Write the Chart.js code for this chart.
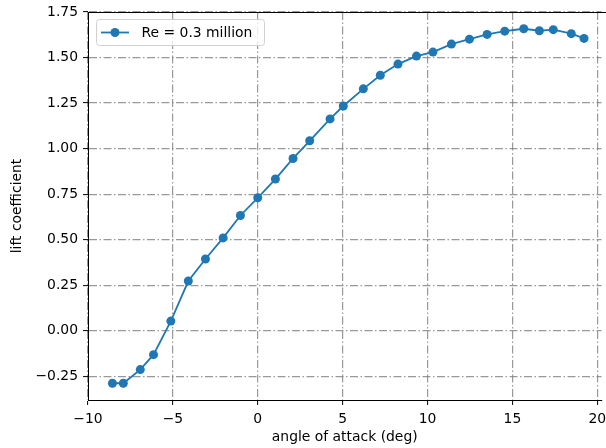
<!DOCTYPE html>
<html>
<head>
<meta charset="utf-8">
<script src="https://cdn.jsdelivr.net/npm/chart.js@4.4.1/dist/chart.umd.min.js"></script>
<style>
  html, body { margin: 0; padding: 0; background: #fff; overflow: hidden; }
  #wrap { width: 606px; height: 448px; }
</style>
</head>
<body>
<div id="wrap"><canvas id="chart"></canvas></div>
<script>
// angle of attack (deg) and lift coefficient
const alpha = [-8.56, -7.92, -6.92, -6.14, -5.12, -4.09, -3.08, -2.04, -1.02, 0.0,
  1.04, 2.08, 3.06, 4.26, 5.04, 6.22, 7.22, 8.26, 9.35, 10.32,
  11.41, 12.47, 13.51, 14.55, 15.67, 16.59, 17.41, 18.47, 19.22];
const cl = [-0.288, -0.288, -0.213, -0.131, 0.053, 0.273, 0.394, 0.510, 0.633, 0.730,
  0.833, 0.946, 1.043, 1.163, 1.234, 1.328, 1.403, 1.464, 1.508, 1.530,
  1.574, 1.601, 1.627, 1.645, 1.658, 1.647, 1.653, 1.631, 1.605];
const seriesLabel = "Re = 0.3 million";
const xTicks = [-10, -5, 0, 5, 10, 15, 20];
const yTicks = [-0.25, 0, 0.25, 0.5, 0.75, 1.0, 1.25, 1.5, 1.75];

const blue = "#1f77b4";
const font = { family: "DejaVu Sans", size: 13.9 };
const minus = s => s.replace("-", "\u2212");

// top border + matplotlib-like legend box
const framePlugin = {
  id: "frame",
  afterDraw(chart) {
    const { ctx, chartArea: a } = chart;
    ctx.save();
    ctx.strokeStyle = "#000";
    ctx.lineWidth = 1;
    ctx.beginPath();
    ctx.moveTo(a.left, a.top + 0.5);
    ctx.lineTo(606, a.top + 0.5);
    ctx.stroke();

    // legend
    const bx = 96.5, by = 19.5, bw = 168, bh = 26;
    ctx.fillStyle = "rgba(255,255,255,0.8)";
    ctx.strokeStyle = "#d0d0d0";
    ctx.beginPath();
    ctx.roundRect(bx, by, bw, bh, 3);
    ctx.fill();
    ctx.stroke();
    const ds = chart.data.datasets[0];
    ctx.strokeStyle = ds.borderColor;
    ctx.lineWidth = ds.borderWidth;
    ctx.beginPath();
    ctx.moveTo(101, by + bh / 2);
    ctx.lineTo(129, by + bh / 2);
    ctx.stroke();
    ctx.fillStyle = ds.backgroundColor;
    ctx.beginPath();
    ctx.arc(115, by + bh / 2, ds.pointRadius, 0, Math.PI * 2);
    ctx.fill();
    ctx.fillStyle = "#000";
    ctx.font = font.size + "px " + font.family;
    ctx.textBaseline = "middle";
    ctx.fillText(ds.label, 141.5, by + bh / 2 + 0.5);
    ctx.restore();
  }
};

const gridStyle = {
  color: "rgba(128,128,128,0.8)",
  lineWidth: 1.2,
  tickColor: "#000",
  tickLength: 5,
  tickBorderDash: [],
  tickWidth: 1
};
const borderStyle = { display: true, color: "#000", width: 1, dash: [8, 2.5, 1.5, 2.5] };

new Chart(document.getElementById("chart"), {
  type: "line",
  data: {
    datasets: [{
      label: seriesLabel,
      data: alpha.map((a, i) => ({ x: a, y: cl[i] })),
      borderColor: blue,
      backgroundColor: blue,
      borderWidth: 1.8,
      pointRadius: 4.5,
      pointHoverRadius: 4.5,
      pointBorderWidth: 0,
      tension: 0
    }]
  },
  options: {
    responsive: true,
    maintainAspectRatio: false,
    animation: false,
    layout: { padding: { top: 12, left: 0, right: 0, bottom: 0 } },
    plugins: { legend: { display: false }, tooltip: { enabled: false } },
    scales: {
      x: {
        type: "linear",
        min: -10,
        max: 20.25,
        afterBuildTicks: s => { s.ticks = xTicks.map(v => ({ value: v })); },
        afterFit: s => { s.height = 48; s.paddingLeft = 0; s.paddingRight = 0; },
        grid: gridStyle,
        border: borderStyle,
        ticks: {
          color: "#000",
          font: font,
          padding: 6,
          maxRotation: 0,
          callback: v => minus(String(v))
        },
        title: {
          display: true,
          text: "angle of attack (deg)",
          color: "#000",
          font: font,
          padding: { top: 0, bottom: 2 }
        }
      },
      y: {
        type: "linear",
        min: -0.38,
        max: 1.75,
        afterBuildTicks: s => { s.ticks = yTicks.map(v => ({ value: v })); },
        afterFit: s => { s.width = 88; s.paddingTop = 0; s.paddingBottom = 0; },
        grid: gridStyle,
        border: borderStyle,
        ticks: {
          color: "#000",
          font: font,
          padding: 5,
          callback: v => minus(v.toFixed(2))
        },
        title: {
          display: true,
          text: "lift coefficient",
          color: "#000",
          font: font,
          padding: { top: 9, bottom: 0 }
        }
      }
    }
  },
  plugins: [framePlugin]
});
</script>
</body>
</html>
